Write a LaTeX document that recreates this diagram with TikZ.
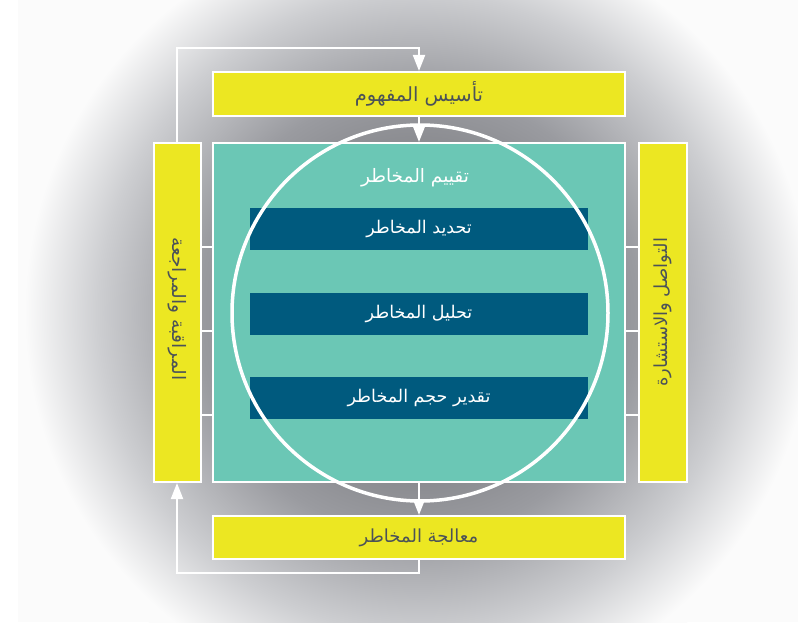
\documentclass[tikz,border=0pt]{standalone}
\usepackage{fontspec}
\usetikzlibrary{arrows.meta,calc}
\TeXXeTstate=1
\newfontfamily\arabicfont[Script=Arabic]{DejaVu Sans}
\definecolor{boxyellow}{HTML}{ECE722}
\definecolor{tealfill}{HTML}{6BC7B5}
\definecolor{barblue}{HTML}{005A7E}
\definecolor{darktext}{HTML}{4B5258}
\definecolor{shA}{HTML}{77787C}
\definecolor{shB}{HTML}{9A9BA0}
\definecolor{shC}{HTML}{CDCED1}
\definecolor{shD}{HTML}{FBFBFB}
\pgfdeclareradialshading{bgshade}{\pgfpoint{0bp}{0bp}}{color(0bp)=(shA); color(6bp)=(shA); color(13.5bp)=(shB); color(19.5bp)=(shC); color(24bp)=(shD); color(50bp)=(shD)}
\tikzset{
  ybox/.style={draw=white, line width=2pt, fill=boxyellow, inner sep=0pt, text=darktext},
  tbox/.style={draw=white, line width=2pt, fill=tealfill, inner sep=0pt},
  bbar/.style={fill=barblue, inner sep=0pt, minimum width=338pt, minimum height=42pt, text=white, font=\arabicfont\fontsize{17.5}{20}\selectfont},
  conn/.style={draw=white, line width=2pt},
  tip/.style={-{Triangle[width=12pt,length=16pt]}}
}
\begin{document}
\begin{tikzpicture}[x=1pt,y=-1pt]
\useasboundingbox (0,0) rectangle (798,626);
\fill[white] (0,0) rectangle (798,626);
\fill[shD] (18,0) rectangle (798,622);
\begin{scope}
\clip (18,0) rectangle (798,622);
\shade[shading=bgshade] (418,313) circle[radius=410];
\end{scope}

\node[ybox, minimum width=412pt, minimum height=44pt, font=\arabicfont\fontsize{19.5}{22}\selectfont] (top) at (419,94) {\beginR تأسيس المفهوم\endR};
\node[tbox, minimum width=412pt, minimum height=339pt] (teal) at (419,312.5) {};
\node[ybox, minimum width=47pt, minimum height=339pt] (left) at (177,312.5) {};
\node[ybox, minimum width=48pt, minimum height=339pt] (right) at (663,312.5) {};
\node[ybox, minimum width=412pt, minimum height=43pt, font=\arabicfont\fontsize{18}{21}\selectfont] (bottom) at (419,537.5) {\beginR معالجة المخاطر\endR};

\node[text=darktext, font=\arabicfont\fontsize{18.5}{21}\selectfont, rotate=-90] (lefttext) at (177,309) {\beginR المراقبة والمراجعة\endR};
\node[text=darktext, font=\arabicfont\fontsize{18}{21}\selectfont, rotate=90] (righttext) at (right.center) {\beginR التواصل والاستشارة\endR};

\node[bbar] (bar1) at (419,228.5) {\beginR تحديد المخاطر\endR};
\node[bbar] (bar2) at (419,313.5) {\beginR تحليل المخاطر\endR};
\node[bbar] (bar3) at (419,397.5) {\beginR تقدير حجم المخاطر\endR};
\node[text=white, font=\arabicfont\fontsize{18.5}{21}\selectfont] (assess) at (415,178) {\beginR تقييم المخاطر\endR};

\node[draw=white, line width=3.5pt, circle, minimum size=376pt, inner sep=0pt] (ring) at (420,313) {};

\draw[conn, tip] (left.north) -- ++(0,-94) -| (top.north);
\draw[conn, tip] (top.south) -- (teal.north);
\draw[conn, tip] (teal.south) -- (bottom.north);
\draw[conn, tip] (bottom.south) -- ++(0,13) -| (left.south);

\foreach \yy in {247,331,415} {
  \draw[conn] (left.east |- 0,\yy) -- (teal.west |- 0,\yy);
  \draw[conn] (teal.east |- 0,\yy) -- (right.west |- 0,\yy);
}
\end{tikzpicture}
\end{document}
